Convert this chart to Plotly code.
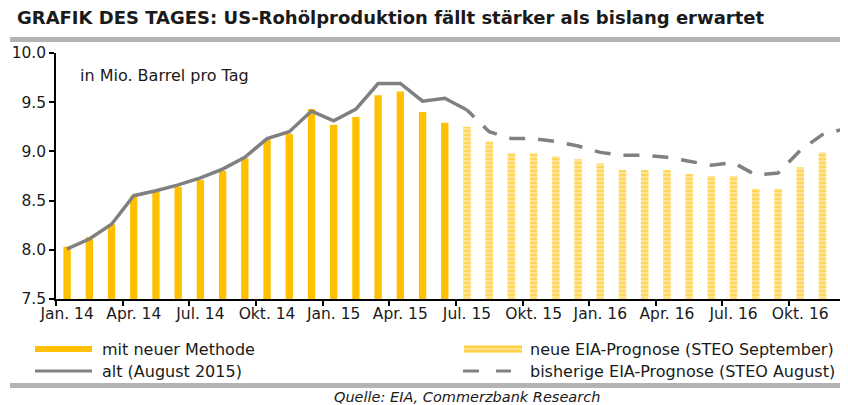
import plotly.graph_objects as go

# ---- data ----
months = ["Jan. 14", "Feb. 14", "Mär. 14", "Apr. 14", "Mai 14", "Jun. 14", "Jul. 14", "Aug. 14", "Sep. 14",
          "Okt. 14", "Nov. 14", "Dez. 14", "Jan. 15", "Feb. 15", "Mär. 15", "Apr. 15", "Mai 15", "Jun. 15",
          "Jul. 15", "Aug. 15", "Sep. 15", "Okt. 15", "Nov. 15", "Dez. 15", "Jan. 16", "Feb. 16", "Mär. 16",
          "Apr. 16", "Mai 16", "Jun. 16", "Jul. 16", "Aug. 16", "Sep. 16", "Okt. 16", "Nov. 16", "Dez. 16"]
tick_labels = ["Jan. 14", "Apr. 14", "Jul. 14", "Okt. 14", "Jan. 15", "Apr. 15",
               "Jul. 15", "Okt. 15", "Jan. 16", "Apr. 16", "Jul. 16", "Okt. 16"]

# new method (actual), Jan 14 - Jun 15
neu_methode = [8.03, 8.13, 8.26, 8.55, 8.59, 8.64, 8.71, 8.80, 8.93, 9.12, 9.18, 9.43,
               9.27, 9.35, 9.57, 9.61, 9.40, 9.29]
# new EIA forecast (STEO September), Jul 15 - Dec 16
neue_prognose = [9.25, 9.10, 8.98, 8.98, 8.95, 8.92, 8.88, 8.81, 8.81, 8.81, 8.77, 8.75,
                 8.75, 8.62, 8.62, 8.84, 8.99, 9.08]
# old (August 2015), Jan 14 - Jul 15
alt_aug = [8.01, 8.11, 8.26, 8.55, 8.60, 8.66, 8.73, 8.82, 8.94, 9.13, 9.20, 9.41,
           9.31, 9.43, 9.69, 9.69, 9.51, 9.54, 9.42]
# previous EIA forecast (STEO August), Jul 15 - Dec 16
bisherige_prognose = [9.42, 9.20, 9.13, 9.13, 9.10, 9.055, 8.99, 8.96, 8.96, 8.94, 8.90, 8.86,
                      8.885, 8.76, 8.78, 9.01, 9.17, 9.23]

idx = list(range(len(months)))
x_neu = idx[:len(neu_methode)]
x_prog = idx[len(months) - len(neue_prognose):]
x_alt = idx[:len(alt_aug)]
x_bis = idx[len(months) - len(bisherige_prognose):]
tick_pos = [months.index(t) for t in tick_labels]

# the page body has an 8px margin, so the figure is drawn 8px right/down
OFF = 8
W, H = 848 - OFF, 405 - OFF
L, R, T, B = 56 - OFF, 0, 53 - OFF, 405 - 299
PW, PH = W - L - R, H - T - B

def px(xp):
    return (xp - OFF - L) / PW

def py(yp):
    return (H - B - (yp - OFF)) / PH

FONT = "DejaVu Sans, Arial, sans-serif"
ORANGE = "#FFC000"
GREY = "#808080"

fig = go.Figure()
fig.add_trace(go.Bar(x=x_neu, y=neu_methode, width=0.33,
                     marker=dict(color=ORANGE, line=dict(width=0)), name="mit neuer Methode"))
fig.add_trace(go.Bar(x=x_prog, y=neue_prognose, width=0.34,
                     marker=dict(color="#FFE48F", line=dict(width=0),
                                 pattern=dict(shape="-", fgcolor=ORANGE, bgcolor="#FFE594",
                                              size=4, solidity=0.4)),
                     name="neue EIA-Prognose (STEO September)"))
fig.add_trace(go.Scatter(x=x_alt, y=alt_aug, mode="lines",
                         line=dict(color=GREY, width=3.5), name="alt (August 2015)"))
dash = "10px,13px," + ",".join(["16px,13px"] * 30)
fig.add_trace(go.Scatter(x=x_bis, y=bisherige_prognose, mode="lines",
                         line=dict(color=GREY, width=3.5, dash=dash),
                         name="bisherige EIA-Prognose (STEO August)"))

fig.update_layout(
    width=W, height=H, margin=dict(l=L, r=R, t=T, b=B),
    paper_bgcolor="white", plot_bgcolor="white",
    barmode="overlay", showlegend=False,
    font=dict(family=FONT, size=15.5, color="#1a1a1a"),
)
fig.update_xaxes(range=[-0.5, 35.15], showline=True, linecolor="black", linewidth=1.5,
                 tickmode="array", tickvals=tick_pos, ticktext=tick_labels, ticks="",
                 showgrid=False, zeroline=False, tickfont=dict(size=15.5),
                 minor=dict(tickmode="array", tickvals=[p - 0.5 for p in tick_pos],
                            ticks="outside", ticklen=5, tickwidth=1.5, tickcolor="black",
                            showgrid=False))
fig.update_yaxes(range=[7.5, 10.0], showline=True, linecolor="black", linewidth=1.5,
                 tickmode="array", tickvals=[7.5, 8.0, 8.5, 9.0, 9.5, 10.0], tickformat=".1f",
                 ticks="outside", ticklen=5, tickwidth=1.5, tickcolor="black",
                 showgrid=False, zeroline=False, tickfont=dict(size=15.5))

ann = []
ann.append(dict(text="<b>GRAFIK DES TAGES: US-Rohölproduktion fällt stärker als bislang erwartet</b>",
                x=px(15), y=py(18), xref="paper", yref="paper", xanchor="left", yanchor="middle",
                showarrow=False, font=dict(size=18, color="#1a1a1a")))
ann.append(dict(text="in Mio. Barrel pro Tag", x=px(78), y=py(75), xref="paper", yref="paper",
                xanchor="left", yanchor="middle", showarrow=False, font=dict(size=16)))
ann.append(dict(text="mit neuer Methode", x=px(100), y=py(349), xref="paper", yref="paper",
                xanchor="left", yanchor="middle", showarrow=False, font=dict(size=16)))
ann.append(dict(text="alt (August 2015)", x=px(100), y=py(371), xref="paper", yref="paper",
                xanchor="left", yanchor="middle", showarrow=False, font=dict(size=16)))
ann.append(dict(text="neue EIA-Prognose (STEO September)", x=px(528), y=py(349), xref="paper",
                yref="paper", xanchor="left", yanchor="middle", showarrow=False, font=dict(size=16)))
ann.append(dict(text="bisherige EIA-Prognose (STEO August)", x=px(528), y=py(371), xref="paper",
                yref="paper", xanchor="left", yanchor="middle", showarrow=False, font=dict(size=16)))
ann.append(dict(text="<i>Quelle: EIA, Commerzbank Research</i>", x=px(467), y=py(397), xref="paper",
                yref="paper", xanchor="center", yanchor="middle", showarrow=False, font=dict(size=14.5)))

shp = []
# separator lines
shp.append(dict(type="rect", xref="paper", yref="paper", x0=px(10), x1=px(848), y0=py(37), y1=py(42),
                fillcolor="#b4b4b4", line=dict(width=0), layer="above"))
shp.append(dict(type="rect", xref="paper", yref="paper", x0=px(10), x1=px(848), y0=py(383), y1=py(388),
                fillcolor="#b4b4b4", line=dict(width=0), layer="above"))
# legend swatches
shp.append(dict(type="rect", xref="paper", yref="paper", x0=px(35), x1=px(92), y0=py(346), y1=py(352),
                fillcolor=ORANGE, line=dict(width=0)))
shp.append(dict(type="line", xref="paper", yref="paper", x0=px(35), x1=px(92), y0=py(371), y1=py(371),
                line=dict(color=GREY, width=3)))
shp.append(dict(type="rect", xref="paper", yref="paper", x0=px(464), x1=px(522), y0=py(345), y1=py(353),
                fillcolor="#FFE48F", line=dict(width=0)))
for yy in (347, 351):
    shp.append(dict(type="line", xref="paper", yref="paper", x0=px(464), x1=px(522), y0=py(yy), y1=py(yy),
                    line=dict(color=ORANGE, width=1.2)))
for xa, xb in ((463, 479), (496, 511)):
    shp.append(dict(type="line", xref="paper", yref="paper", x0=px(xa), x1=px(xb), y0=py(371), y1=py(371),
                    line=dict(color=GREY, width=3)))

fig.update_layout(annotations=ann, shapes=shp)
fig.write_html("out.html")
